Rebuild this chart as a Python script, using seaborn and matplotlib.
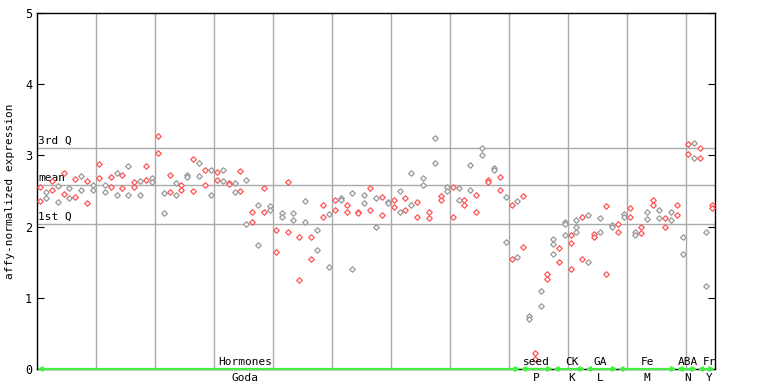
import matplotlib
matplotlib.use("Agg")
import matplotlib.pyplot as plt
import seaborn as sns
import pandas as pd

# replicate values per sample position
reps = [
    [2.56, 2.36], [2.48, 2.40], [2.64, 2.52], [2.57, 2.34], [2.75, 2.46],
    [2.54, 2.40], [2.67, 2.42], [2.71, 2.51], [2.64, 2.33], [2.58, 2.52],
    [2.88, 2.68], [2.59, 2.48], [2.69, 2.55], [2.75, 2.44], [2.73, 2.54],
    [2.85, 2.44], [2.62, 2.55], [2.64, 2.45], [2.85, 2.65], [2.68, 2.62],
    [3.27, 3.04], [2.47, 2.19], [2.73, 2.48], [2.61, 2.44], [2.59, 2.52],
    [2.72, 2.69], [2.95, 2.50], [2.89, 2.71], [2.80, 2.59], [2.79, 2.44],
    [2.76, 2.65], [2.79, 2.64], [2.61, 2.60], [2.61, 2.48], [2.78, 2.50],
    [2.65, 2.03], [2.20, 2.07], [2.30, 1.74], [2.54, 2.21], [2.29, 2.23],
    [1.95, 1.64], [2.19, 2.13], [2.62, 1.93], [2.19, 2.09], [1.85, 1.25],
    [2.36, 2.06], [1.85, 1.54], [1.95, 1.67], [2.31, 2.14], [2.17, 1.43],
    [2.38, 2.23], [2.40, 2.37], [2.31, 2.20], [2.47, 1.41], [2.20, 2.19],
    [2.44, 2.33], [2.54, 2.23], [2.40, 1.99], [2.41, 2.16], [2.34, 2.33],
    [2.37, 2.27], [2.50, 2.21], [2.40, 2.24], [2.75, 2.31], [2.34, 2.14],
    [2.68, 2.59], [2.21, 2.12], [3.25, 2.90], [2.43, 2.37], [2.55, 2.50],
    [2.55, 2.13], [2.54, 2.37], [2.37, 2.30], [2.86, 2.51], [2.44, 2.20],
    [3.11, 3.00], [2.65, 2.62], [2.83, 2.80], [2.69, 2.52], [2.41, 1.78],
    [2.31, 1.55], [2.36, 1.57], [2.43, 1.72], [0.75, 0.70], [0.22, 0.14],
    [1.09, 0.88], [1.34, 1.26], [1.82, 1.75, 1.61], [1.70, 1.50], [2.06, 2.03, 1.88],
    [1.88, 1.77, 1.40], [2.09, 1.99, 1.92], [2.13, 1.54], [2.16, 1.50], [1.89, 1.86],
    [2.12, 1.92], [2.29, 1.33], [2.02, 1.99], [2.03, 1.92], [2.17, 2.14],
    [2.26, 2.14], [1.93, 1.88], [1.99, 1.91], [2.20, 2.10], [2.37, 2.31],
    [2.23, 2.12], [2.12, 2.00], [2.20, 2.09], [2.31, 2.16], [1.85, 1.61],
    [3.16, 3.02], [3.18, 2.97], [3.10, 2.96], [1.93, 1.16], [2.30, 2.26],
]

quart_names = ["3rd Q", "mean", "1st Q"]
quart_vals = [3.10, 2.58, 2.04]

groups = ["Hormones", "seed", "CK", "GA", "Fe", "ABA", "Fr"]
subgroups = ["Goda", "P", "K", "L", "M", "N", "Y"]
group_edges = [0, 82, 87.5, 93, 98.5, 108.5, 112, 115]

rows = []
for i, vals in enumerate(reps):
    for v in vals:
        rows.append({"pos": i + 0.5, "val": v, "col": "red" if i % 2 == 0 else "gray"})
df = pd.DataFrame(rows)

mono = "DejaVu Sans Mono"
fig = plt.figure(figsize=(7.68, 3.84), dpi=100)
ax = fig.add_axes([37 / 768, 15 / 384, 678 / 768, 356 / 384])

for x in range(10, 115, 10):
    ax.axvline(x, color="#aaaaaa", lw=1, zorder=0)
for name, q in zip(quart_names, quart_vals):
    ax.axhline(q, color="#aaaaaa", lw=1, zorder=0)
    ax.text(0.2, q + 0.03, name, fontsize=8, family=mono, va="bottom", ha="left")

palette = {"red": "#ff5555", "gray": "#999999"}
for key, c in palette.items():
    sub = df[df["col"] == key]
    sns.scatterplot(data=sub, x="pos", y="val", ax=ax, marker="D", s=8,
                    facecolor="white", edgecolor=c, linewidth=0.9, zorder=3)

# green group arrows along the bottom
green = "#44ee44"
for k in range(len(groups)):
    x0, x1 = group_edges[k], group_edges[k + 1]
    ax.annotate("", xy=(x1, 0), xytext=(x0, 0),
                arrowprops=dict(arrowstyle="<->", color=green, lw=1.6,
                                mutation_scale=6, shrinkA=0, shrinkB=0),
                annotation_clip=False, zorder=4)
label_x = [35.3, 84.7, 90.7, 95.6, 103.5, 110.4, 114.0]
for name, sub_name, lx in zip(groups, subgroups, label_x):
    ax.text(lx, 0.03, name, fontsize=8, family=mono, ha="center", va="bottom")
    ax.text(lx, -0.05, sub_name, fontsize=8, family=mono, ha="center", va="top")

ax.set_xlim(0, 115)
ax.set_ylim(0, 5)
ax.set_yticks(range(6))
ax.set_xticks([])
ax.tick_params(axis="y", direction="in", length=5, right=True, labelsize=8.5)
for lab in ax.get_yticklabels():
    lab.set_family(mono)
ax.set_xlabel("")
ax.set_ylabel("affy-normalized expression", fontsize=8, family=mono, labelpad=7)
for s in ax.spines.values():
    s.set_color("black")
    s.set_linewidth(1)

fig.savefig("out.png", dpi=100)
